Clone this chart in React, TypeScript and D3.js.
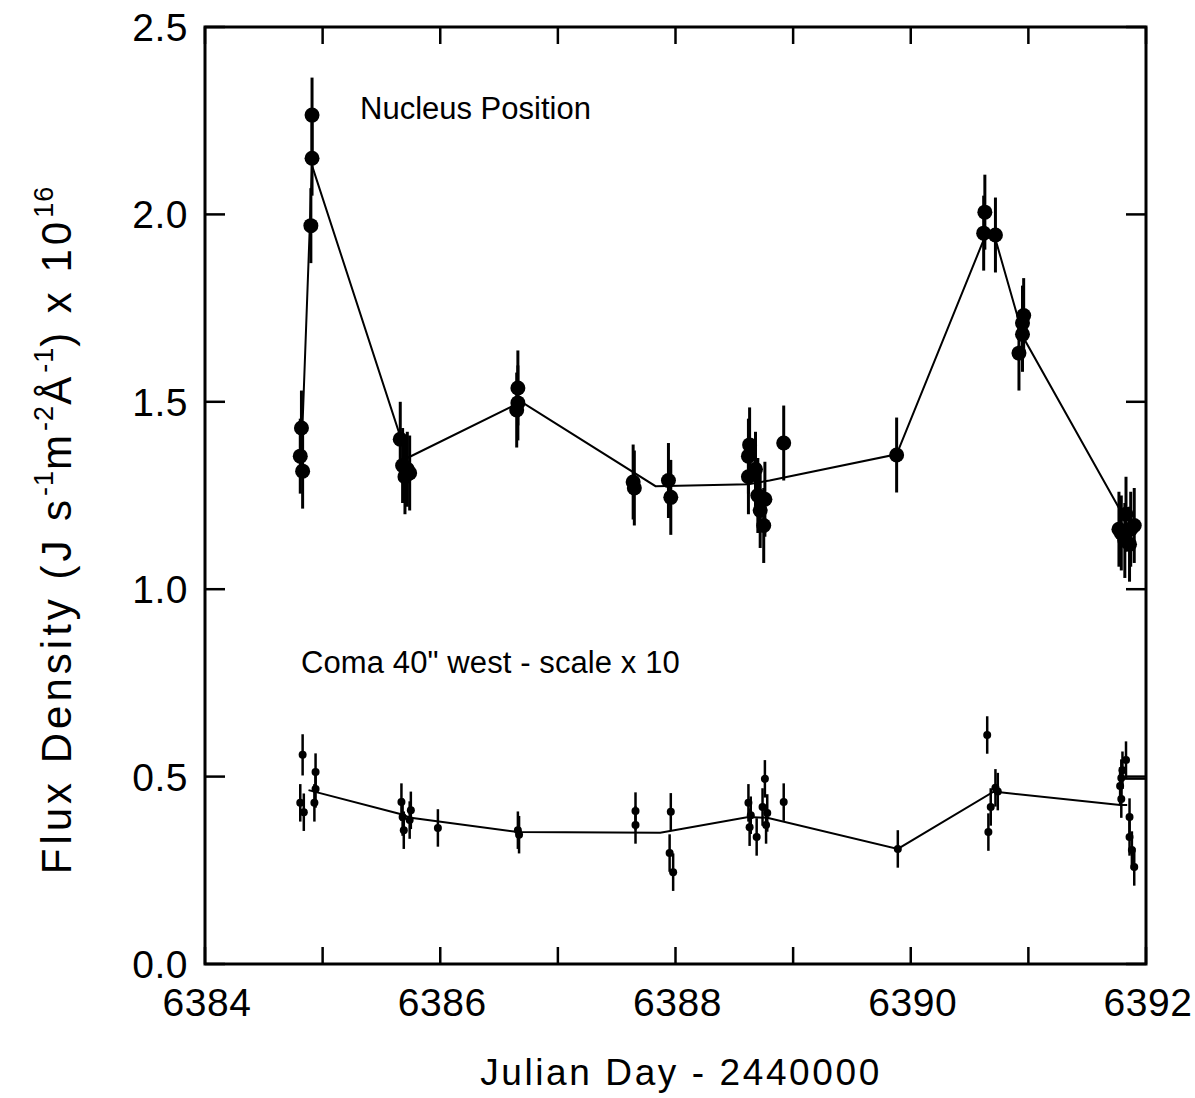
import React, { Component } from 'react'
import * as d3 from 'd3';

// Julian day - 2440000, flux, error (half length)
const nucleusPoints: [number, number, number][] = [
    [6384.82, 1.43, 0.10], [6384.81, 1.355, 0.10], [6384.83, 1.315, 0.10],
    [6384.91, 2.265, 0.10], [6384.91, 2.15, 0.10], [6384.90, 1.97, 0.10],
    [6385.66, 1.40, 0.10], [6385.68, 1.33, 0.10], [6385.70, 1.30, 0.10],
    [6385.72, 1.32, 0.10], [6385.74, 1.31, 0.10],
    [6386.66, 1.537, 0.10], [6386.66, 1.497, 0.10], [6386.65, 1.478, 0.10],
    [6387.64, 1.286, 0.10], [6387.65, 1.27, 0.10],
    [6387.94, 1.29, 0.10], [6387.96, 1.245, 0.10],
    [6388.63, 1.385, 0.10], [6388.62, 1.355, 0.10], [6388.62, 1.30, 0.10],
    [6388.68, 1.32, 0.10], [6388.70, 1.25, 0.10], [6388.72, 1.21, 0.10],
    [6388.75, 1.17, 0.10], [6388.76, 1.24, 0.10],
    [6388.92, 1.39, 0.10],
    [6389.88, 1.358, 0.10],
    [6390.63, 2.006, 0.10], [6390.62, 1.95, 0.10], [6390.72, 1.945, 0.10],
    [6390.96, 1.73, 0.10], [6390.95, 1.71, 0.10], [6390.95, 1.68, 0.10], [6390.92, 1.63, 0.10],
    [6391.77, 1.16, 0.10], [6391.79, 1.15, 0.10], [6391.83, 1.20, 0.10], [6391.82, 1.13, 0.10],
    [6391.87, 1.16, 0.10], [6391.86, 1.12, 0.10], [6391.90, 1.17, 0.10],
];

const nucleusLine: [number, number][] = [
    [6384.82, 1.36], [6384.91, 2.13], [6385.72, 1.35], [6386.69, 1.50],
    [6387.83, 1.275], [6388.62, 1.28], [6388.80, 1.29], [6389.88, 1.36],
    [6390.63, 1.94], [6390.71, 1.945], [6390.96, 1.67], [6391.80, 1.20],
];

// coma values already multiplied by 10
const comaPoints: [number, number, number][] = [
    [6384.83, 0.558, 0.055], [6384.81, 0.43, 0.05], [6384.84, 0.405, 0.05],
    [6384.94, 0.512, 0.05], [6384.94, 0.467, 0.05], [6384.93, 0.43, 0.05],
    [6385.67, 0.432, 0.05], [6385.68, 0.392, 0.05], [6385.69, 0.357, 0.05],
    [6385.75, 0.41, 0.05], [6385.74, 0.384, 0.05],
    [6385.98, 0.363, 0.05],
    [6386.66, 0.357, 0.05], [6386.67, 0.345, 0.05],
    [6387.66, 0.408, 0.05], [6387.66, 0.371, 0.05],
    [6387.96, 0.406, 0.05], [6387.95, 0.296, 0.05], [6387.98, 0.245, 0.05],
    [6388.62, 0.43, 0.05], [6388.64, 0.397, 0.05], [6388.63, 0.365, 0.05],
    [6388.69, 0.339, 0.05], [6388.76, 0.494, 0.05], [6388.74, 0.419, 0.05],
    [6388.78, 0.403, 0.05], [6388.77, 0.371, 0.05],
    [6388.92, 0.432, 0.05],
    [6389.89, 0.307, 0.05],
    [6390.65, 0.611, 0.05], [6390.66, 0.352, 0.05], [6390.68, 0.419, 0.05],
    [6390.72, 0.47, 0.05], [6390.74, 0.46, 0.05],
    [6391.78, 0.475, 0.05], [6391.79, 0.496, 0.05], [6391.80, 0.517, 0.05],
    [6391.83, 0.544, 0.05], [6391.79, 0.44, 0.05], [6391.86, 0.392, 0.05],
    [6391.86, 0.339, 0.05], [6391.88, 0.304, 0.05], [6391.90, 0.259, 0.05],
];

const comaLine: [number, number][] = [
    [6384.88, 0.464], [6385.66, 0.40], [6385.75, 0.39], [6386.66, 0.352],
    [6387.87, 0.35], [6388.62, 0.392], [6388.78, 0.39], [6389.89, 0.307],
    [6390.70, 0.459], [6390.74, 0.459], [6391.78, 0.424], [6391.84, 0.424],
];
const comaTail: [number, number][] = [[6391.82, 0.494], [6392, 0.494]];

const xTicks = [6384, 6385, 6386, 6387, 6388, 6389, 6390, 6391, 6392];
const xLabels = [6384, 6386, 6388, 6390, 6392];
const yTicks = [0, 0.5, 1.0, 1.5, 2.0, 2.5];

const FONT = '"Liberation Sans", Arial, Helvetica, sans-serif';

export default class App extends Component {

    svgEl: SVGSVGElement | null = null;

    componentDidMount() {
        this.draw();
    }

    draw() {
        const svg = d3.select(this.svgEl);
        svg.selectAll('*').remove();

        const left = 205, right = 1146, top = 27, bottom = 964;

        const x = d3.scaleLinear().domain([6384, 6392]).range([left, right]);
        const y = d3.scaleLinear().domain([0, 2.5]).range([bottom, top]);

        const g = svg.append('g');

        // ticks (inside, all four sides)
        xTicks.forEach(t => {
            g.append('line').attr('x1', x(t)).attr('x2', x(t))
                .attr('y1', bottom).attr('y2', bottom - 17)
                .attr('stroke', '#000').attr('stroke-width', 2.5);
            g.append('line').attr('x1', x(t)).attr('x2', x(t))
                .attr('y1', top).attr('y2', top + 17)
                .attr('stroke', '#000').attr('stroke-width', 2.5);
        });
        yTicks.forEach(t => {
            g.append('line').attr('x1', left).attr('x2', left + 20)
                .attr('y1', y(t)).attr('y2', y(t))
                .attr('stroke', '#000').attr('stroke-width', 2.5);
            g.append('line').attr('x1', right).attr('x2', right - 20)
                .attr('y1', y(t)).attr('y2', y(t))
                .attr('stroke', '#000').attr('stroke-width', 2.5);
        });

        // frame
        g.append('rect')
            .attr('x', left).attr('y', top)
            .attr('width', right - left).attr('height', bottom - top)
            .attr('fill', 'none').attr('stroke', '#000').attr('stroke-width', 3);

        // tick labels
        g.selectAll('.xlabel').data(xLabels).enter()
            .append('text')
            .attr('class', 'xlabel')
            .attr('x', d => x(d) + 2).attr('y', 1016)
            .attr('text-anchor', 'middle')
            .attr('font-family', FONT).attr('font-size', 39)
            .attr('letter-spacing', 0.5)
            .text(d => d);

        g.selectAll('.ylabel').data(yTicks).enter()
            .append('text')
            .attr('class', 'ylabel')
            .attr('x', 188).attr('y', d => y(d) + 14)
            .attr('text-anchor', 'end')
            .attr('font-family', FONT).attr('font-size', 39)
            .attr('letter-spacing', 0.5)
            .text(d => d3.format('.1f')(d));

        // axis titles
        g.append('text')
            .attr('x', 681).attr('y', 1085)
            .attr('text-anchor', 'middle')
            .attr('font-family', FONT).attr('font-size', 37)
            .attr('letter-spacing', 2.6)
            .text('Julian Day - 2440000');

        const yTitle = g.append('text')
            .attr('transform', 'translate(71,530) rotate(-90)')
            .attr('text-anchor', 'middle')
            .attr('font-family', FONT).attr('font-size', 42)
            .attr('letter-spacing', 4);
        const parts: [string, boolean][] = [
            ['Flux Density (J s', false], ['-1', true], ['m', false], ['-2', true],
            ['Å', false], ['-1', true], [') x 10', false], ['16', true],
        ];
        parts.forEach(([txt, sup]) => {
            yTitle.append('tspan')
                .attr('font-size', sup ? 27 : 42)
                .attr('letter-spacing', sup ? 1 : 4)
                .attr('baseline-shift', sup ? '65%' : '0')
                .text(txt);
        });

        // annotations
        g.append('text')
            .attr('x', 360).attr('y', 119)
            .attr('font-family', FONT).attr('font-size', 31)
            .text('Nucleus Position');
        g.append('text')
            .attr('x', 301).attr('y', 673)
            .attr('font-family', FONT).attr('font-size', 31)
            .attr('letter-spacing', 0.1)
            .text('Coma 40" west - scale x 10');

        const line = d3.line<[number, number]>().x(d => x(d[0])).y(d => y(d[1]));

        // connecting lines
        g.append('path').attr('d', line(nucleusLine))
            .attr('fill', 'none').attr('stroke', '#000').attr('stroke-width', 2);
        g.append('path').attr('d', line(comaLine))
            .attr('fill', 'none').attr('stroke', '#000').attr('stroke-width', 2);
        g.append('path').attr('d', line(comaTail))
            .attr('fill', 'none').attr('stroke', '#000').attr('stroke-width', 2);

        // error bars
        g.selectAll('.nuc-err').data(nucleusPoints).enter()
            .append('line').attr('class', 'nuc-err')
            .attr('x1', d => x(d[0])).attr('x2', d => x(d[0]))
            .attr('y1', d => y(d[1] - d[2])).attr('y2', d => y(d[1] + d[2]))
            .attr('stroke', '#000').attr('stroke-width', 3);
        g.selectAll('.coma-err').data(comaPoints).enter()
            .append('line').attr('class', 'coma-err')
            .attr('x1', d => x(d[0])).attr('x2', d => x(d[0]))
            .attr('y1', d => y(d[1] - d[2])).attr('y2', d => y(d[1] + d[2]))
            .attr('stroke', '#000').attr('stroke-width', 2.5);

        // markers
        g.selectAll('.nuc').data(nucleusPoints).enter()
            .append('circle').attr('class', 'nuc')
            .attr('cx', d => x(d[0])).attr('cy', d => y(d[1]))
            .attr('r', 7.5).attr('fill', '#000');
        g.selectAll('.coma').data(comaPoints).enter()
            .append('circle').attr('class', 'coma')
            .attr('cx', d => x(d[0])).attr('cy', d => y(d[1]))
            .attr('r', 4).attr('fill', '#000');
    }

    render() {
        return (
            <svg ref={el => { this.svgEl = el; }}
                 width={1195} height={1098}
                 style={{ position: 'absolute', left: 0, top: 0, background: '#fff' }} />
        )
    }
}
